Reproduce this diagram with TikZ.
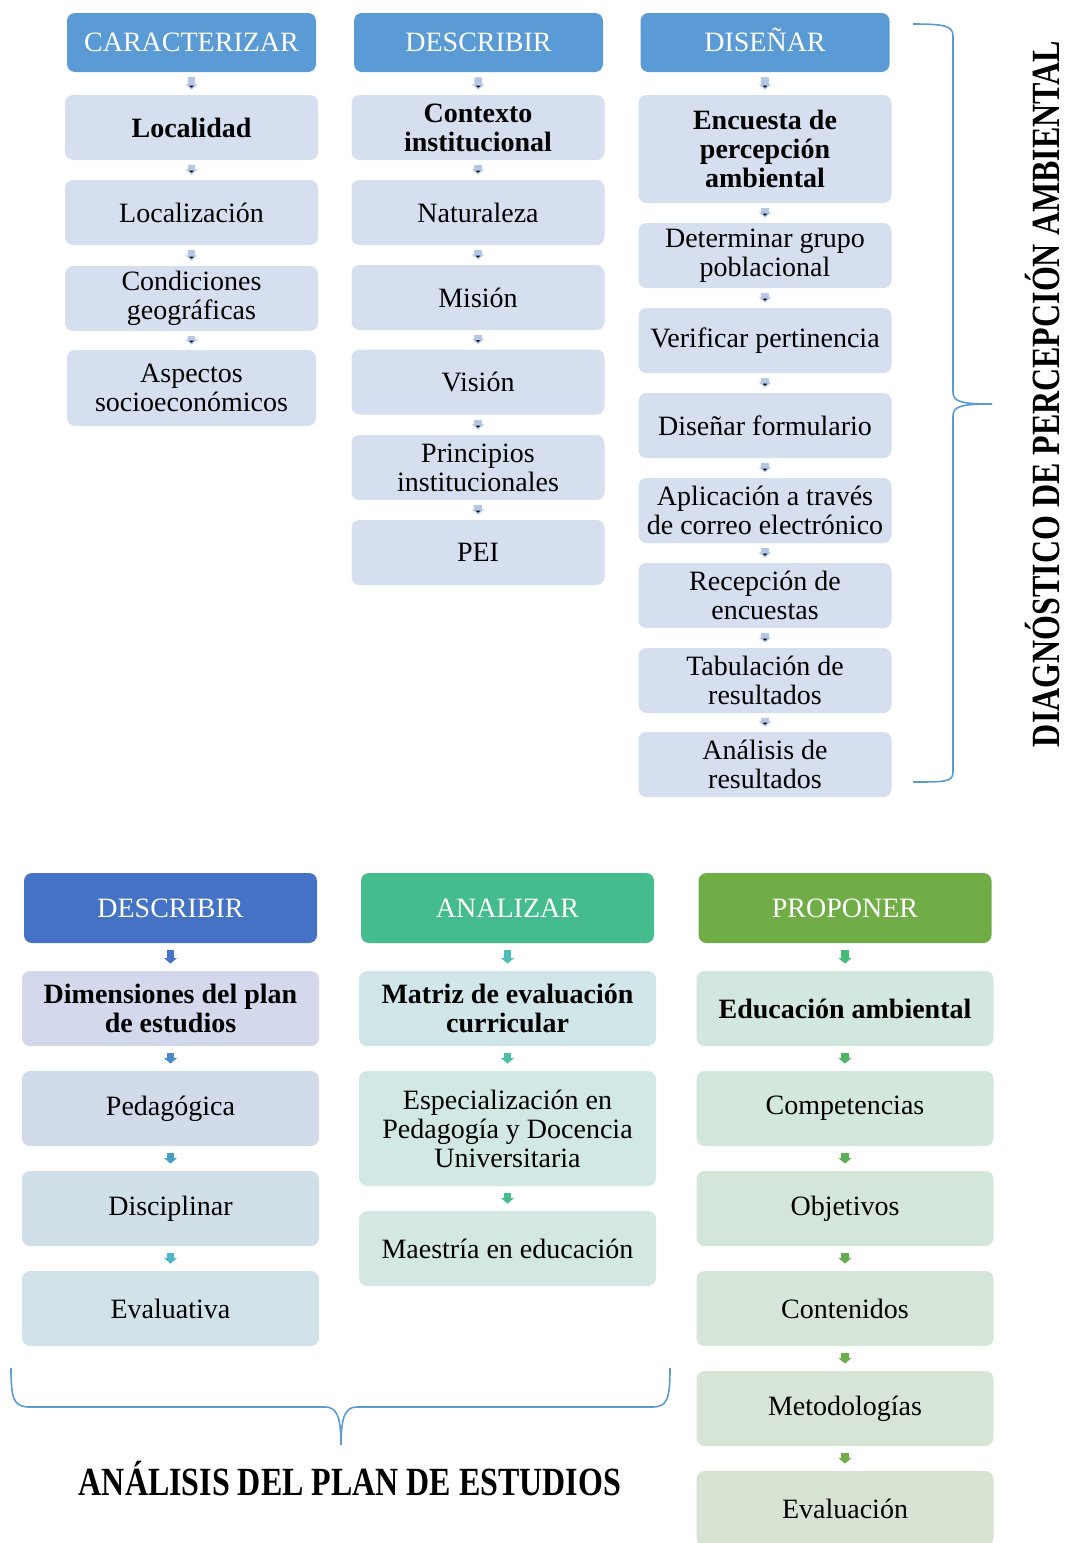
\documentclass[tikz,border=0pt]{standalone}
\usepackage{fontspec}
\setmainfont{Liberation Serif}
\usetikzlibrary{arrows.meta}
\definecolor{hdrblue}{HTML}{5B9BD5}
\definecolor{boxblue}{HTML}{D6DFEF}
\definecolor{arrblue}{HTML}{B4C7E7}
\definecolor{hdrdark}{HTML}{4472C4}
\definecolor{hdrteal}{HTML}{45BC8E}
\definecolor{hdrgreen}{HTML}{70AD47}
\definecolor{bracecol}{HTML}{5B9BD5}
\definecolor{boxA1}{HTML}{D3D8EC}
\definecolor{boxA2}{HTML}{D2DBEA}
\definecolor{boxA3}{HTML}{D1DFE8}
\definecolor{boxA4}{HTML}{D1E3E8}
\definecolor{boxB1}{HTML}{D1E6E9}
\definecolor{boxB2}{HTML}{D2E8E4}
\definecolor{boxB3}{HTML}{D3E8E2}
\definecolor{boxC1}{HTML}{D2E8DE}
\definecolor{boxC2}{HTML}{D3E7DC}
\definecolor{boxC3}{HTML}{D4E6DA}
\definecolor{boxC4}{HTML}{D5E6D8}
\definecolor{boxC5}{HTML}{D6E5D6}
\definecolor{boxC6}{HTML}{D8E4D3}
\definecolor{arrA1}{HTML}{4472C4}
\definecolor{arrA2}{HTML}{4A8AC6}
\definecolor{arrA3}{HTML}{46A0C4}
\definecolor{arrA4}{HTML}{4AB8C8}
\definecolor{arrB1}{HTML}{4CBDB8}
\definecolor{arrB2}{HTML}{48BFA6}
\definecolor{arrB3}{HTML}{46BD8C}
\definecolor{arrC1}{HTML}{48BB78}
\definecolor{arrC2}{HTML}{4CB565}
\definecolor{arrC3}{HTML}{5AB058}
\definecolor{arrC4}{HTML}{62AE50}
\definecolor{arrC5}{HTML}{6AAD4A}
\definecolor{arrC6}{HTML}{70AD47}
\newcommand{\boxfont}{\fontsize{14}{14.5}\selectfont}
\newcommand{\titlefont}{\fontsize{20}{24}\selectfont\bfseries}

\begin{document}
\begin{tikzpicture}[x=0.5pt,y=-0.5pt,
  hdr/.style={fill=#1,text=white,rounded corners=4pt,inner sep=0pt,text height=9.4pt,text depth=0pt,font=\boxfont},
  box/.style={fill=#1,rounded corners=4pt,inner sep=0pt,align=center,font=\boxfont},
  tophdr/.style={hdr=hdrblue,minimum width=124.5pt,minimum height=29.5pt},
  topbox/.style={box=boxblue,minimum width=126.5pt,minimum height=32.5pt},
  bothdr/.style={hdr=#1,minimum width=146.5pt,minimum height=35pt},
  botbox/.style={box=#1,minimum width=148.5pt,minimum height=37.5pt},
  toparr/.style={draw=arrblue,line width=3.8pt,-{Triangle[width=6pt,length=2.6pt]},shorten <=2.5pt,shorten >=2.5pt},
  botarr/.style={line width=3.8pt,-{Triangle[width=6.4pt,length=2.8pt]},shorten <=3.5pt,shorten >=3.5pt}]
  \useasboundingbox (0,0) rectangle (1065,1543);

  \node[tophdr] (h1) at (191.5,42.5) {CARACTERIZAR};
  \node[topbox] (a1) at (191.5,127.5) {\textbf{Localidad}};
  \node[topbox] (a2) at (191.5,212.5) {Localización};
  \node[topbox] (a3) at (191.5,298.5) {Condiciones\\geográficas};
  \node[topbox,minimum width=124.5pt,minimum height=38pt] (a4) at (191.5,388) {Aspectos\\socioeconómicos};

  \node[tophdr] (h2) at (478.5,42.5) {DESCRIBIR};
  \node[topbox] (b1) at (478,127.5) {\textbf{Contexto}\\\textbf{institucional}};
  \node[topbox] (b2) at (478,212.5) {Naturaleza};
  \node[topbox] (b3) at (478,297.5) {Misión};
  \node[topbox] (b4) at (478,382) {Visión};
  \node[topbox] (b5) at (478,467.5) {Principios\\institucionales};
  \node[topbox] (b6) at (478,552.5) {PEI};

  \node[tophdr] (h3) at (765,42.5) {DISEÑAR};
  \node[topbox,minimum height=54pt] (d1) at (765,149) {\textbf{Encuesta de}\\\textbf{percepción}\\\textbf{ambiental}};
  \node[topbox] (d2) at (765,255.5) {Determinar grupo\\poblacional};
  \node[topbox] (d3) at (765,340.5) {Verificar pertinencia};
  \node[topbox] (d4) at (765,425.5) {Diseñar formulario};
  \node[topbox] (d5) at (765,510.5) {Aplicación a través\\de correo electrónico};
  \node[topbox] (d6) at (765,595.5) {Recepción de\\encuestas};
  \node[topbox] (d7) at (765,680.5) {Tabulación de\\resultados};
  \node[topbox] (d8) at (765,764.5) {Análisis de\\resultados};

  \path[toparr]
    (h1) edge (a1)
    (a1) edge (a2)
    (a2) edge (a3)
    (a3) edge (a4)
    (h2) edge (b1)
    (b1) edge (b2)
    (b2) edge (b3)
    (b3) edge (b4)
    (b4) edge (b5)
    (b5) edge (b6)
    (h3) edge (d1)
    (d1) edge (d2)
    (d2) edge (d3)
    (d3) edge (d4)
    (d4) edge (d5)
    (d5) edge (d6)
    (d6) edge (d7)
    (d7) edge (d8);

  \draw[bracecol,line width=0.8pt] (913,24) .. controls (945,24) and (953,26) .. (953,36) -- (953,392)
    .. controls (953,402) and (962,404) .. (992,404) .. controls (962,404) and (953,406) .. (953,416)
    -- (953,772) .. controls (953,782) and (945,782) .. (913,782);
  \node[rotate=90,font=\titlefont] (ttl1) at (1043,394) {\scalebox{0.8}[1]{DIAGNÓSTICO DE PERCEPCIÓN AMBIENTAL}};

  \node[bothdr=hdrdark] (hA) at (170.5,908) {DESCRIBIR};
  \node[botbox=boxA1] (e1) at (170.5,1008.5) {\textbf{Dimensiones del plan}\\\textbf{de estudios}};
  \node[botbox=boxA2] (e2) at (170.5,1108.5) {Pedagógica};
  \node[botbox=boxA3] (e3) at (170.5,1208.5) {Disciplinar};
  \node[botbox=boxA4] (e4) at (170.5,1308.5) {Evaluativa};

  \node[bothdr=hdrteal] (hB) at (507.5,908) {ANALIZAR};
  \node[botbox=boxB1] (f1) at (507.5,1008.5) {\textbf{Matriz de evaluación}\\\textbf{curricular}};
  \node[botbox=boxB2,minimum height=57.5pt] (f2) at (507.5,1128.5) {Especialización en\\Pedagogía y Docencia\\Universitaria};
  \node[botbox=boxB3] (f3) at (507.5,1248.5) {Maestría en educación};

  \node[bothdr=hdrgreen] (hC) at (845,908) {PROPONER};
  \node[botbox=boxC1] (g1) at (845,1008.5) {\textbf{Educación ambiental}};
  \node[botbox=boxC2] (g2) at (845,1108.5) {Competencias};
  \node[botbox=boxC3] (g3) at (845,1208.5) {Objetivos};
  \node[botbox=boxC4] (g4) at (845,1308.5) {Contenidos};
  \node[botbox=boxC5] (g5) at (845,1408.5) {Metodologías};
  \node[botbox=boxC6] (g6) at (845,1508.5) {Evaluación};

  \path[botarr]
    (hA) edge[draw=arrA1] (e1)
    (e1) edge[draw=arrA2] (e2)
    (e2) edge[draw=arrA3] (e3)
    (e3) edge[draw=arrA4] (e4)
    (hB) edge[draw=arrB1] (f1)
    (f1) edge[draw=arrB2] (f2)
    (f2) edge[draw=arrB3] (f3)
    (hC) edge[draw=arrC1] (g1)
    (g1) edge[draw=arrC2] (g2)
    (g2) edge[draw=arrC3] (g3)
    (g3) edge[draw=arrC4] (g4)
    (g4) edge[draw=arrC5] (g5)
    (g5) edge[draw=arrC6] (g6);

  \draw[bracecol,line width=0.8pt] (11,1368) .. controls (11,1400) and (14,1407) .. (30,1407) -- (325,1407)
    .. controls (336,1407) and (341,1415) .. (341,1445) .. controls (341,1415) and (346,1407) .. (357,1407)
    -- (652,1407) .. controls (667,1407) and (670,1400) .. (670,1368);
  \node[font=\titlefont] (ttl2) at (350,1479) {\scalebox{0.8}[1]{ANÁLISIS DEL PLAN DE ESTUDIOS}};
\end{tikzpicture}
\end{document}
